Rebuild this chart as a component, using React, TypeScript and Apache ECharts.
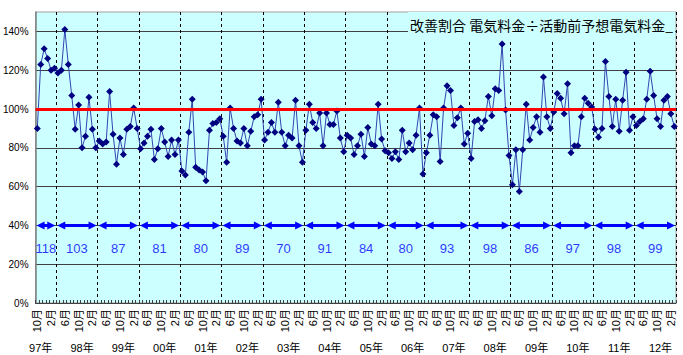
import React, { useEffect, useRef } from "react";
import * as echarts from "echarts";

// Monthly categories: 1997-10 .. 2013-03
const START_YEAR = 1997;
const START_MONTH = 10;
const MONTH_COUNT = 186;
const months: string[] = [];
for (let i = 0; i < MONTH_COUNT; i++) {
  const m = START_MONTH - 1 + i;
  const y = START_YEAR + Math.floor(m / 12);
  const mm = (m % 12) + 1;
  months.push(`${y}-${mm}`);
}

// 改善割合 (%) per month
const ratio = [
  90, 123, 131, 126, 120, 121, 118.5, 120, 141, 123,
  107, 89.5, 102, 80, 86, 106, 89.5, 80, 83.5, 82,
  83, 109, 87, 71.5, 85, 76.5, 89.5, 91, 100.5, 90,
  79.5, 82.5, 86, 89.5, 74, 79.5, 90, 83, 75.5, 84,
  76.5, 84, 68, 66, 88, 105, 70, 68.5, 67.5, 63,
  89, 92.5, 93, 95, 86, 72.5, 100.5, 90, 83.5, 82.5,
  90, 81, 88.5, 96, 97, 105, 84, 88, 93, 88,
  103.5, 88, 81, 86.5, 85, 104.5, 81, 72.5, 89, 102.5,
  93, 90, 98, 81, 98, 92, 92, 99, 85, 78,
  86.5, 85, 76.5, 81, 87, 75.5, 90.5, 82, 81, 102.5,
  84.5, 78.5, 77.5, 74.5, 78, 74, 89, 78, 82.5, 79,
  86.5, 100.5, 66.5, 77.5, 86.5, 97, 96, 73, 100.5, 112,
  109.5, 91.5, 95.5, 100.5, 82, 87.5, 74.5, 93.5, 94.5, 90,
  94, 106.5, 96.5, 110.5, 109.5, 133.5, 99.5, 76, 61, 79,
  57.5, 79, 102.5, 84, 90.5, 96, 88, 116.5, 96, 90,
  98.5, 108, 105.5, 97.5, 113, 77.5, 81, 81, 96, 105.5,
  103, 101, 89.5, 85.5, 90, 124.5, 106.5, 91, 105, 88.5,
  104.5, 119, 89, 96, 91.5, 93.5, 95, 105, 119.5, 107,
  95, 91, 104.5, 106.5, 97.5, 91,
];

// Fiscal-year segment boundaries (month indices) and their labels
const fiscalBoundaries = [0, 6, 18, 30, 42, 54, 66, 78, 90, 102, 113, 126, 138, 150, 162, 174, 186];
const fiscalValues = [118, 103, 87, 81, 80, 89, 70, 91, 84, 80, 93, 98, 86, 97, 98, 99];

const TITLE = "改善割合 電気料金÷活動前予想電気料金_";
const ARROW_LEVEL = 40;
const NUMBER_LEVEL = 28;

export default function App() {
  const ref = useRef<HTMLDivElement>(null);
  useEffect(() => {
    if (!ref.current) return;
    const chart = echarts.init(ref.current, null, { renderer: "svg" });
    const inner = new Set(fiscalBoundaries.slice(1, -1));
    const inset = 1.45;
    const segs = fiscalValues.map((v, k) => {
      const a = fiscalBoundaries[k];
      const b = fiscalBoundaries[k + 1];
      return { coords: [[a + inset, ARROW_LEVEL], [b - inset, ARROW_LEVEL]] };
    });
    const nums = fiscalValues.map((v, k) => ({
      value: [(fiscalBoundaries[k] + fiscalBoundaries[k + 1]) / 2, NUMBER_LEVEL],
      name: String(v),
    }));
    const font = "'Liberation Sans', 'Noto Sans CJK JP', sans-serif";
    chart.setOption({
      animation: false,
      backgroundColor: "#ffffff",
      textStyle: { fontFamily: font },
      title: {
        text: TITLE,
        right: 8,
        top: 12,
        padding: [5, 2, 6, 2],
        backgroundColor: "#CCFFFF",
        textStyle: {
          fontSize: 14,
          fontWeight: "normal",
          color: "#000",
          lineHeight: 16,
          fontFamily: "'Noto Sans CJK JP', sans-serif",
        },
      },
      grid: {
        left: 32,
        top: 12,
        width: 644,
        height: 291,
        show: true,
        backgroundColor: "#CCFFFF",
        borderColor: "#A0A0A0",
        borderWidth: 1,
      },
      xAxis: [
        {
          type: "category",
          data: months,
          boundaryGap: true,
          position: "bottom",
          offset: 0,
          axisLine: { show: true, lineStyle: { color: "#404040", width: 1 } },
          axisTick: { show: true, inside: true, length: 3, interval: 0, lineStyle: { color: "#404040" } },
          axisLabel: {
            interval: (i: number) => i % 4 === 0,
            rotate: 90,
            margin: 6,
            fontSize: 11,
            color: "#000",
            formatter: (v: string) => v.split("-")[1] + "月",
          },
          splitLine: {
            show: true,
            interval: (i: number) => inner.has(i),
            lineStyle: { color: "#000", type: [3, 3], width: 1 },
          },
        },
        {
          type: "category",
          data: months,
          boundaryGap: true,
          position: "bottom",
          offset: 0,
          axisLine: { show: false },
          axisTick: { show: false },
          splitLine: { show: false },
          axisLabel: {
            interval: (i: number) => i % 12 === 1,
            margin: 39,
            fontSize: 11,
            color: "#000",
            formatter: (v: string) => v.slice(2, 4) + "年",
          },
        },
        { type: "value", min: 0, max: MONTH_COUNT, show: false },
      ],
      yAxis: {
        type: "value",
        min: 0,
        max: 150,
        interval: 20,
        axisLine: { show: true, lineStyle: { color: "#808080", width: 1.5 } },
        axisTick: { show: false },
        axisLabel: {
          fontSize: 10,
          margin: 7,
          color: "#000",
          formatter: (v: number) => (v > 140 ? "" : v + "%"),
        },
        splitLine: { show: true, showMaxLine: false, lineStyle: { color: "#404040", width: 1 } },
      },
      series: [
        {
          type: "line",
          xAxisIndex: 0,
          yAxisIndex: 0,
          data: ratio,
          symbol: "diamond",
          symbolSize: 7,
          showSymbol: true,
          showAllSymbol: true,
          itemStyle: { color: "#000080" },
          lineStyle: { color: "#3344B0", width: 1 },
          markLine: {
            silent: true,
            symbol: "none",
            label: { show: false },
            lineStyle: { color: "#FF0000", width: 3, type: "solid" },
            data: [{ yAxis: 100 }],
          },
          z: 3,
        },
        {
          type: "lines",
          coordinateSystem: "cartesian2d",
          xAxisIndex: 2,
          yAxisIndex: 0,
          symbol: ["triangle", "triangle"],
          symbolSize: 8,
          lineStyle: { color: "#0000FF", width: 3, opacity: 1, curveness: 0 },
          data: segs,
          silent: true,
          z: 2,
        },
        {
          type: "scatter",
          xAxisIndex: 2,
          yAxisIndex: 0,
          symbolSize: 1,
          itemStyle: { color: "transparent" },
          data: nums,
          silent: true,
          label: {
            show: true,
            position: "inside",
            formatter: "{b}",
            color: "#0000FF",
            fontSize: 13,
            fontFamily: "'Liberation Sans', sans-serif",
          },
          z: 2,
        },
      ],
    });
    return () => chart.dispose();
  }, []);
  return (
    <div
      ref={ref}
      style={{ position: "fixed", left: 0, top: 0, width: 683, height: 355 }}
    />
  );
}
